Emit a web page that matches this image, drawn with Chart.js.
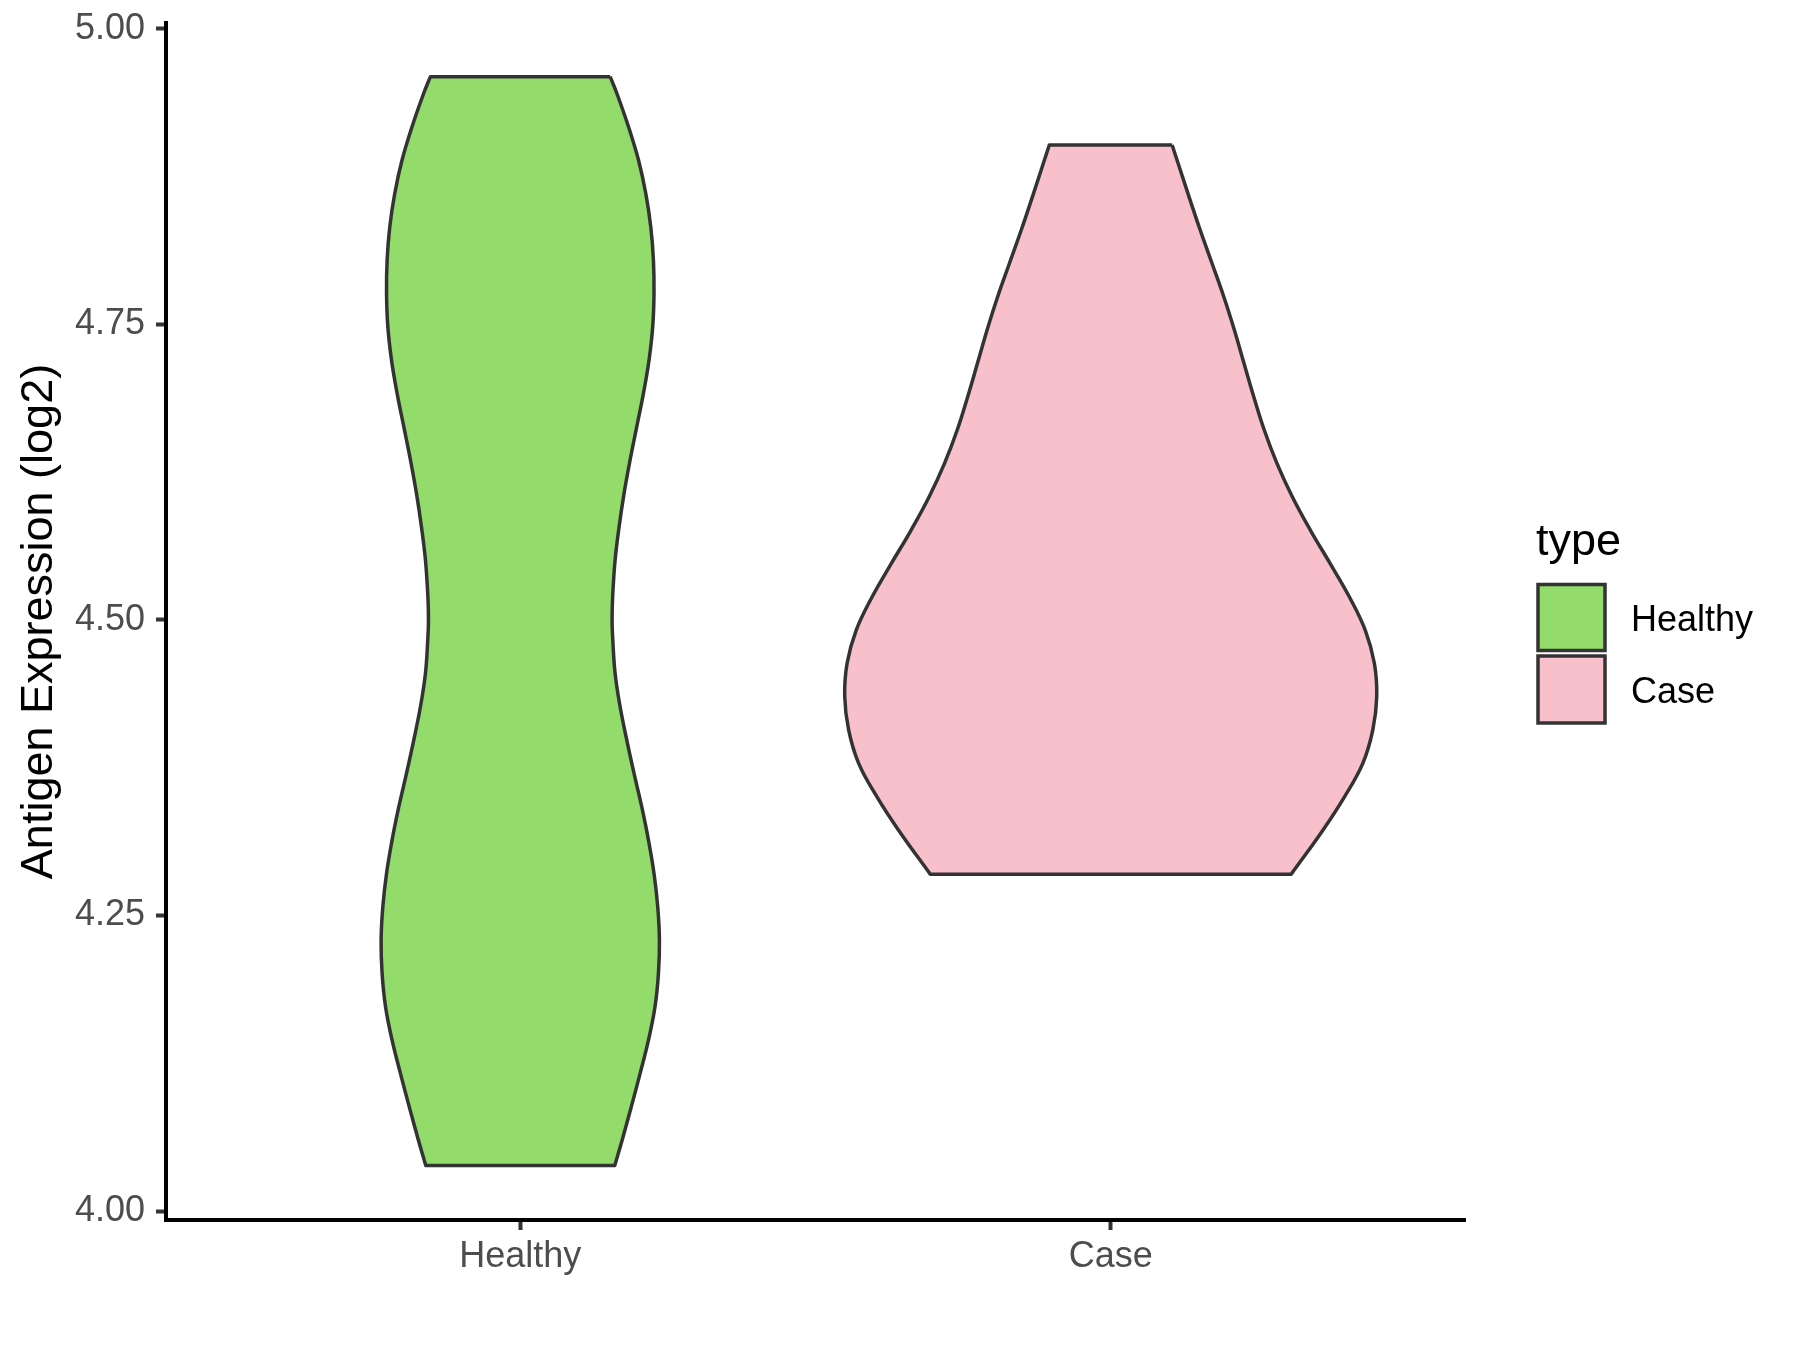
<!DOCTYPE html>
<html>
<head>
<meta charset="utf-8">
<title>Antigen Expression violin</title>
<script src="https://cdn.jsdelivr.net/npm/chart.js@4.4.0/dist/chart.umd.min.js"></script>
<style>
  html, body { margin: 0; padding: 0; background: #ffffff; }
  #wrap { width: 1800px; height: 1350px; }
</style>
</head>
<body>
<div id="wrap"><canvas id="violinChart" width="1800" height="1350"></canvas></div>
<script>
const FONT = '"Liberation Sans", Arial, Helvetica, sans-serif';

const categories = ['Healthy', 'Case'];
const fillColors = ['#93DB6A', '#F7C0CB'];
const yTicks = [4.00, 4.25, 4.50, 4.75, 5.00];

// violin outline: expression level -> half width (in category units)
const healthyLevels = [4.9594, 4.9454, 4.9171, 4.8889, 4.8608, 4.8325, 4.8044, 4.7762, 4.7480,
    4.7198, 4.6916, 4.6634, 4.6352, 4.6070, 4.5788, 4.5506, 4.5200, 4.4999, 4.4830, 4.4548,
    4.4265, 4.3984, 4.3702, 4.3420, 4.3138, 4.2856, 4.2574, 4.2292, 4.2010, 4.1728, 4.1446,
    4.1165, 4.0882, 4.0600, 4.0386];
const healthyHalfWidths = [0.1522, 0.1635, 0.1833, 0.2002, 0.2125, 0.2210, 0.2255, 0.2265, 0.2243,
    0.2181, 0.2086, 0.1973, 0.1860, 0.1758, 0.1674, 0.1606, 0.1565, 0.1555, 0.1567, 0.1606,
    0.1691, 0.1804, 0.1927, 0.2057, 0.2171, 0.2265, 0.2328, 0.2357, 0.2340, 0.2282, 0.2171,
    0.2030, 0.1880, 0.1725, 0.1600];

const caseLevels = [4.9016, 4.8580, 4.8297, 4.8016, 4.7733, 4.7450, 4.7170, 4.6890, 4.6606,
    4.6324, 4.6042, 4.5760, 4.5478, 4.5196, 4.4914, 4.4633, 4.4350, 4.4068, 4.3787, 4.3504,
    4.3222, 4.2850];
const caseHalfWidths = [0.1040, 0.1325, 0.1515, 0.1715, 0.1915, 0.2095, 0.2257, 0.2421, 0.2600,
    0.2815, 0.3075, 0.3380, 0.3715, 0.4040, 0.4310, 0.4465, 0.4505, 0.4438, 0.4269, 0.3959,
    0.3593, 0.3057];

function violinPoints(center, levels, widths) {
    const right = levels.map((v, i) => ({ x: center + widths[i], y: v }));
    const left = levels.map((v, i) => ({ x: center - widths[i], y: v })).reverse();
    const r = right.length - 1, l = left.length - 1;
    // corner points are doubled so the flat top and bottom stay straight
    return [...right, right[r], left[0], ...left, left[l], right[0]];
}

function violinDataset(label, idx, levels, widths) {
    return {
        label: label,
        data: violinPoints(idx + 1, levels, widths),
        showLine: true,
        fill: 'shape',
        backgroundColor: fillColors[idx],
        borderColor: '#333333',
        borderWidth: 3.5,
        borderJoinStyle: 'round',
        tension: 0.4,
        pointRadius: 0,
        pointHoverRadius: 0
    };
}

const legendPlugin = {
    id: 'typeLegend',
    afterDraw(chart) {
        const ctx = chart.ctx;
        ctx.save();
        ctx.textAlign = 'left';
        ctx.textBaseline = 'alphabetic';
        ctx.fillStyle = '#000000';
        ctx.font = '45px ' + FONT;
        ctx.fillText('type', 1536, 555);
        const boxes = [{ y: 584.5, h: 66 }, { y: 656, h: 67 }];
        const baselines = [631, 703];
        categories.forEach((name, i) => {
            ctx.fillStyle = fillColors[i];
            ctx.fillRect(1538, boxes[i].y, 67, boxes[i].h);
            ctx.strokeStyle = '#333333';
            ctx.lineWidth = 3.5;
            ctx.strokeRect(1538, boxes[i].y, 67, boxes[i].h);
            ctx.fillStyle = '#000000';
            ctx.font = '36px ' + FONT;
            ctx.fillText(name, 1631, baselines[i]);
        });
        ctx.restore();
    }
};

const ctx = document.getElementById('violinChart').getContext('2d');
new Chart(ctx, {
    type: 'scatter',
    data: {
        datasets: [
            violinDataset('Healthy', 0, healthyLevels, healthyHalfWidths),
            violinDataset('Case', 1, caseLevels, caseHalfWidths)
        ]
    },
    options: {
        responsive: false,
        animation: false,
        devicePixelRatio: 1,
        layout: { padding: { top: 23, right: 335, left: 0, bottom: 0 } },
        plugins: {
            legend: { display: false },
            tooltip: { enabled: false }
        },
        scales: {
            x: {
                type: 'linear',
                min: 0.4,
                max: 2.6,
                afterBuildTicks: scale => { scale.ticks = categories.map((c, i) => ({ value: i + 1 })); },
                afterFit: scale => {
                    scale.height = 130;
                    scale.paddingLeft = 0;
                    scale.paddingRight = 0;
                },
                ticks: {
                    callback: v => categories[v - 1],
                    color: '#4D4D4D',
                    font: { size: 36, family: FONT },
                    padding: 5,
                    autoSkip: false,
                    maxRotation: 0
                },
                grid: { drawOnChartArea: false, tickLength: 10, tickColor: '#333333', tickWidth: 4 },
                border: { display: true, color: '#000000', width: 4 }
            },
            y: {
                type: 'linear',
                min: 3.9925,
                max: 5.0048,
                afterBuildTicks: scale => { scale.ticks = yTicks.map(v => ({ value: v })); },
                afterFit: scale => {
                    scale.width = 166;
                    scale.paddingTop = 0;
                    scale.paddingBottom = 0;
                },
                ticks: {
                    callback: v => Number(v).toFixed(2),
                    color: '#4D4D4D',
                    font: { size: 36, family: FONT },
                    padding: 11
                },
                grid: { drawOnChartArea: false, tickLength: 10, tickColor: '#333333', tickWidth: 4 },
                border: { display: true, color: '#000000', width: 4 },
                title: {
                    display: true,
                    text: 'Antigen Expression (log2)',
                    color: '#000000',
                    font: { size: 45, family: FONT },
                    padding: { top: 13, bottom: 0 }
                }
            }
        }
    },
    plugins: [legendPlugin]
});
</script>
</body>
</html>
